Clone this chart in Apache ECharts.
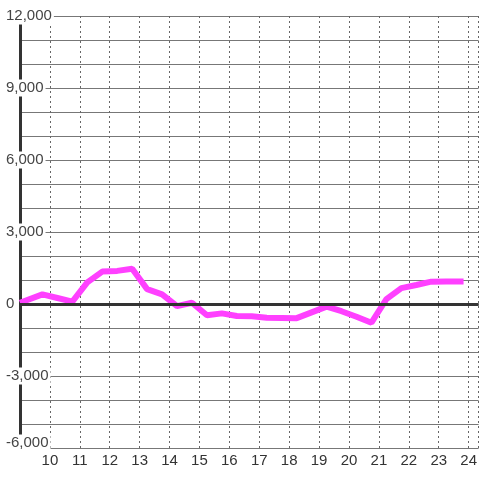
<!DOCTYPE html>
<html>
<head>
<meta charset="utf-8">
<script src="https://cdn.jsdelivr.net/npm/echarts@6/dist/echarts.min.js"></script>
<style>
  html, body { margin: 0; padding: 0; background: #fff; }
  #chart { width: 480px; height: 480px; }
</style>
</head>
<body>
<div id="chart"></div>
<script>
// hours of the day and the value at each
const hours = [9.0, 9.75, 10.25, 10.75, 11.25, 11.75, 12.25, 12.75, 13.25, 13.75, 14.25, 14.75, 15.25, 15.75,
  16.25, 16.75, 17.25, 17.75, 18.25, 18.75, 19.25, 19.75, 20.25, 20.75, 21.25, 21.75, 22.25, 22.75, 23.25, 23.83];
const values = [50, 400, 250, 100, 900, 1350, 1380, 1470, 620, 400, -90, 50, -470, -390,
  -500, -510, -570, -580, -590, -350, -110, -300, -530, -780, 200, 660, 790, 930, 940, 940];
const yTicks = [-6000, 12000, 3000];
const xTicks = [9, 24.333, 1];

const chart = echarts.init(document.getElementById("chart"));

const option = {
  animation: false,
  backgroundColor: "#fff",
  grid: { left: 20, right: 0, top: 16, bottom: 32 },
  xAxis: {
    type: "value",
    min: xTicks[0],
    max: xTicks[1],
    interval: xTicks[2],
    axisLine: { show: false },
    axisTick: { show: false },
    axisLabel: {
      color: "#333",
      fontSize: 15,
      fontFamily: "Liberation Sans",
      margin: 5,
      showMinLabel: false,
      showMaxLabel: false,
      formatter: (v) => (v > 9 && v <= 24 && Number.isInteger(v) ? String(v) : ""),
    },
    splitLine: {
      show: true,
      lineStyle: { color: "#666", width: 1, type: [2, 3] },
    },
  },
  yAxis: {
    type: "value",
    min: yTicks[0],
    max: yTicks[1],
    interval: yTicks[2],
    axisLine: { show: true, lineStyle: { color: "#333", width: 3 } },
    axisTick: { show: false },
    axisLabel: {
      color: "#444",
      fontSize: 15,
      fontFamily: "Liberation Sans",
      align: "left",
      margin: 14,
      backgroundColor: "#fff",
      padding: [1, 2, 1, 0],
      // the lowest label sits a little above its line
      formatter: (v) => (v === yTicks[0] ? "{low|" + v.toLocaleString("en-US") + "}" : v.toLocaleString("en-US")),
      rich: {
        low: {
          color: "#444",
          fontSize: 15,
          fontFamily: "Liberation Sans",
          padding: [0, 0, 10, 0],
        },
      },
    },
    splitLine: { show: true, lineStyle: { color: "#777", width: 1 } },
    minorTick: { show: false, splitNumber: 3 },
    minorSplitLine: { show: true, lineStyle: { color: "#777", width: 1 } },
  },
  series: [
    {
      // zero line
      type: "line",
      data: [],
      z: 1,
      markLine: {
        silent: true,
        symbol: "none",
        label: { show: false },
        lineStyle: { color: "#333", width: 3, type: "solid" },
        data: [{ yAxis: 0 }],
      },
    },
    {
      type: "line",
      z: 3,
      showSymbol: false,
      data: hours.map((h, i) => [h, values[i]]),
      lineStyle: { color: "#ff40ff", width: 6 },
    },
  ],
};

chart.setOption(option);
</script>
</body>
</html>
